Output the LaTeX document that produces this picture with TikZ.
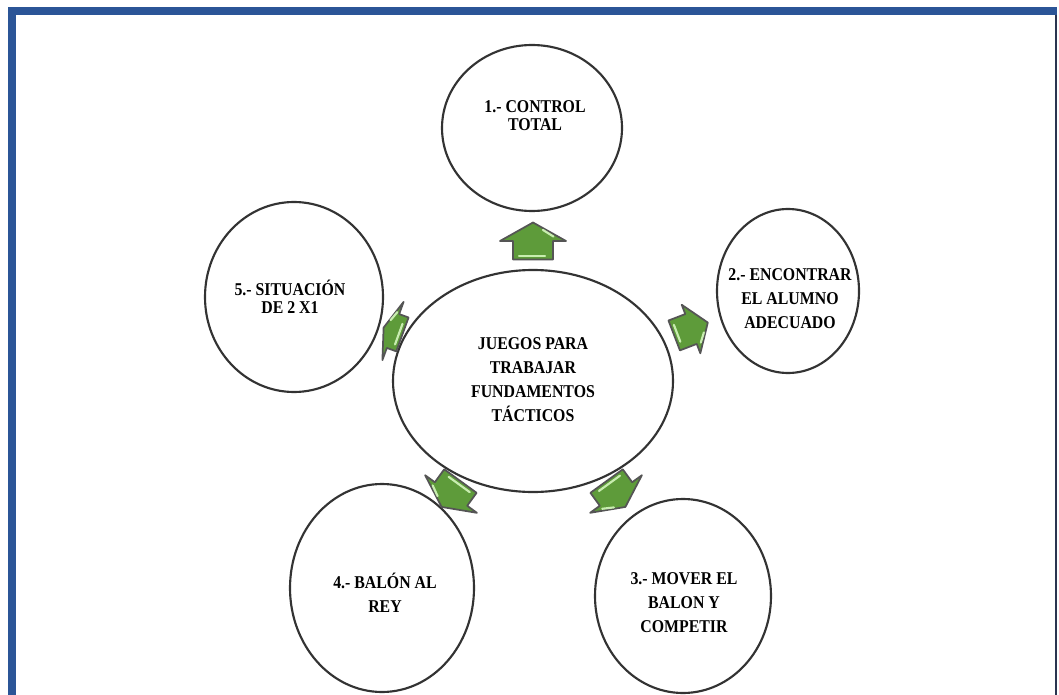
\documentclass[tikz,border=0pt]{standalone}
\usepackage{fontspec}
\setmainfont{Liberation Serif}[FakeStretch=0.88]
\definecolor{frameblue}{HTML}{2B5597}
\definecolor{framedark}{HTML}{2A3550}
\definecolor{agreen}{HTML}{5E9B3A}
\definecolor{alight}{HTML}{C8EDB0}
\definecolor{aline}{HTML}{555555}
\definecolor{cline}{HTML}{333333}
\newcommand{\garrow}[6]{%
  \begin{scope}[shift={(#1,#2)},rotate=#3]
    \draw[fill=agreen,draw=aline,line width=1.3pt,line join=round]
      (-#4/2,-#6) -- (0,-#6) -- (0,-#5) -- (#4/2,0) -- (0,#5) -- (0,#6) -- (-#4/2,#6) -- cycle;
    \draw[alight,line width=1.6pt,line cap=round]
      (-#4/2+3.5,-#6+6) -- (-#4/2+3.5,#6-8);
    \draw[alight,line width=1.6pt,line cap=round]
      (0.12*#4,#5*0.62) -- (0.3*#4,#5*0.3);
  \end{scope}}
\tikzset{
  lbl/.style={align=center, font=\bfseries\fontsize{13.5}{13.5}\selectfont, text=black},
  lblw/.style={align=center, font=\bfseries\fontsize{13.5}{18}\selectfont, text=black},
}
\begin{document}
\begin{tikzpicture}[x=0.75pt,y=-0.75pt]
\useasboundingbox (0,0) rectangle (1059,695);
\fill[white] (0,0) rectangle (1059,695);
% frame
\fill[frameblue] (8,7) rectangle (1057,15);
\fill[frameblue] (8,7) rectangle (16,695);
\fill[framedark] (1055,15) rectangle (1057,695);
% circles
\draw[cline,line width=1.6pt] (532,128) ellipse [x radius=90, y radius=83];
\draw[cline,line width=1.6pt] (788,291) ellipse [x radius=71, y radius=82];
\draw[cline,line width=1.6pt] (683,596) ellipse [x radius=88, y radius=97];
\draw[cline,line width=1.6pt] (382,588) ellipse [x radius=92, y radius=104];
\draw[cline,line width=1.6pt] (294,297) ellipse [x radius=89, y radius=95];
\draw[cline,line width=1.6pt] (533,381) ellipse [x radius=140, y radius=111];
% labels
\node[lbl] (c1) at (535,116) {1.- CONTROL\\TOTAL};
\node[lblw] (c2) at (790,299) {2.- ENCONTRAR\\EL ALUMNO\\ADECUADO};
\node[lblw] (c3) at (684,603) {3.- MOVER EL\\BALON Y\\COMPETIR};
\node[lblw] (c4) at (385,593) {4.- BALÓN AL\\REY};
\node[lbl] (c5) at (290,297) {5.- SITUACIÓN\\DE 2 X1};
\node[lblw] (c0) at (533,380) {JUEGOS PARA\\TRABAJAR\\FUNDAMENTOS\\TÁCTICOS};
% arrows
\garrow{533}{241}{90}{37}{33}{20}
\garrow{691}{329}{21}{36}{26}{16}
\garrow{393}{331}{160}{20}{31}{18}
\garrow{451}{494}{234}{32}{32}{20}
\garrow{616}{494}{306}{32}{32}{20}
\end{tikzpicture}
\end{document}
